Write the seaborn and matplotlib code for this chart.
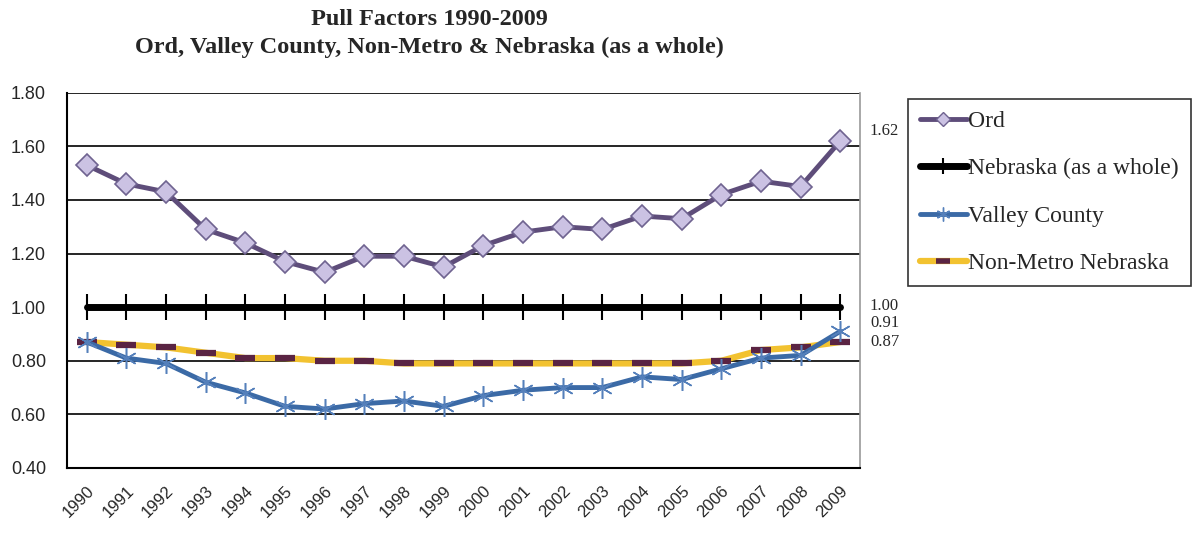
import pandas as pd
import numpy as np
import matplotlib.pyplot as plt
import seaborn as sns
from matplotlib.lines import Line2D

# Pull factor data
years = [str(y) for y in range(1990, 2010)]
ord_vals = [1.53, 1.46, 1.43, 1.29, 1.24, 1.17, 1.13, 1.19, 1.19, 1.15,
            1.23, 1.28, 1.30, 1.29, 1.34, 1.33, 1.42, 1.47, 1.45, 1.62]
nebraska_vals = [1.00] * 20
valley_vals = [0.87, 0.81, 0.79, 0.72, 0.68, 0.63, 0.62, 0.64, 0.65, 0.63,
               0.67, 0.69, 0.70, 0.70, 0.74, 0.73, 0.77, 0.81, 0.82, 0.91]
nonmetro_vals = [0.87, 0.86, 0.85, 0.83, 0.81, 0.81, 0.80, 0.80, 0.79, 0.79,
                 0.79, 0.79, 0.79, 0.79, 0.79, 0.79, 0.80, 0.84, 0.85, 0.87]
end_labels = ["1.62", "1.00", "0.91", "0.87"]
end_values = [1.62, 1.00, 0.91, 0.87]

df = pd.DataFrame({
    "pos": np.arange(len(years)),
    "Ord": ord_vals,
    "Nebraska (as a whole)": nebraska_vals,
    "Valley County": valley_vals,
    "Non-Metro Nebraska": nonmetro_vals,
})

sns.set_style("white")
plt.rcParams["font.family"] = ["Liberation Serif", "DejaVu Serif"]

fig = plt.figure(figsize=(11.93, 5.33), dpi=100)
ax = fig.add_axes([0.056, 0.122, 0.665, 0.704])

ord_col = "#5e4d7a"
blue = "#3b6aa6"
yellow = "#f2c230"
plum = "#5a2443"

# gridlines
for g in [0.6, 0.8, 1.2, 1.4, 1.6, 1.8]:
    ax.axhline(g, color="black", lw=1.2, zorder=1)

sns.lineplot(data=df, x="pos", y="Nebraska (as a whole)", ax=ax, color="black",
             lw=5, marker="|", markersize=19, markeredgewidth=1.5,
             markeredgecolor="black", zorder=3)
sns.lineplot(data=df, x="pos", y="Non-Metro Nebraska", ax=ax, color=yellow,
             lw=4.5, marker="_", markersize=15, markeredgewidth=4.5,
             markeredgecolor=plum, zorder=4)
sns.lineplot(data=df, x="pos", y="Valley County", ax=ax, color=blue,
             lw=3.5, marker=(6, 2, 0), markersize=15, markeredgewidth=1.1,
             markeredgecolor="#5580bb", zorder=5)
sns.lineplot(data=df, x="pos", y="Ord", ax=ax, color=ord_col,
             lw=3.5, marker="D", markersize=11, markerfacecolor="#cbc2e3",
             markeredgecolor="#6f6390", markeredgewidth=1.2, zorder=6)

ax.set_xlim(-0.5, len(years) - 0.5)
ax.set_ylim(0.4, 1.8)
ax.set_yticks(np.arange(0.4, 1.81, 0.2))
ax.set_yticklabels([f"{v:.2f}" for v in np.arange(0.4, 1.81, 0.2)],
                   family="Liberation Sans", fontsize=13)
ax.set_xticks(np.arange(len(years)))
ax.set_xticklabels(years, rotation=45, family="Liberation Sans", fontsize=12,
                   ha="right", rotation_mode="anchor")
ax.set_xticks(np.arange(-0.5, len(years)), minor=True)
ax.tick_params(axis="x", which="major", length=0, pad=11)
ax.tick_params(axis="x", which="minor", length=10, width=1.2, direction="inout", color="black")
ax.tick_params(axis="y", length=10, width=1.2, direction="inout", color="black", pad=10)
ax.set_xlabel("")
ax.set_ylabel("")

for side in ["left", "bottom"]:
    ax.spines[side].set_color("black")
    ax.spines[side].set_linewidth(1.5)
ax.spines["top"].set_visible(False)
ax.spines["right"].set_color("#999999")
ax.spines["right"].set_linewidth(1.2)

# end-of-series value labels (Excel style data labels)
label_lift = [7, 1, 6, 0]
for lab, v, lift in zip(end_labels, end_values, label_lift):
    ax.annotate(lab, xy=(len(years) - 0.5, v), xytext=(7, lift),
                textcoords="offset points", va="center", fontsize=12,
                annotation_clip=False)

fig.text(0.36, 0.963, "Pull Factors 1990-2009", ha="center", va="center",
         fontsize=17.5, fontweight="bold")
fig.text(0.36, 0.911, "Ord, Valley County, Non-Metro & Nebraska (as a whole)",
         ha="center", va="center", fontsize=17.5, fontweight="bold")

handles = [
    Line2D([], [], color=ord_col, lw=3.5, marker="D", markersize=7,
           markerfacecolor="#cbc2e3", markeredgecolor="#6f6390"),
    Line2D([], [], color="black", lw=5, marker="|", markersize=12,
           markeredgewidth=1.5),
    Line2D([], [], color=blue, lw=3.5, marker=(6, 2, 0), markersize=10,
           markeredgecolor="#5580bb"),
    Line2D([], [], color=yellow, lw=4.5, marker="_", markersize=10,
           markeredgewidth=4, markeredgecolor=plum),
]
labels = ["Ord", "Nebraska (as a whole)", "Valley County", "Non-Metro Nebraska"]
leg = fig.legend(handles, labels, loc="upper left", bbox_to_anchor=(0.761, 0.815),
                 frameon=True, fancybox=False, edgecolor="black", fontsize=17,
                 handlelength=2.0, handletextpad=0.05, labelspacing=1.1,
                 borderpad=0.5, borderaxespad=0)
leg.get_frame().set_linewidth(1.2)

plt.savefig("out.png", dpi=100)
plt.close()
